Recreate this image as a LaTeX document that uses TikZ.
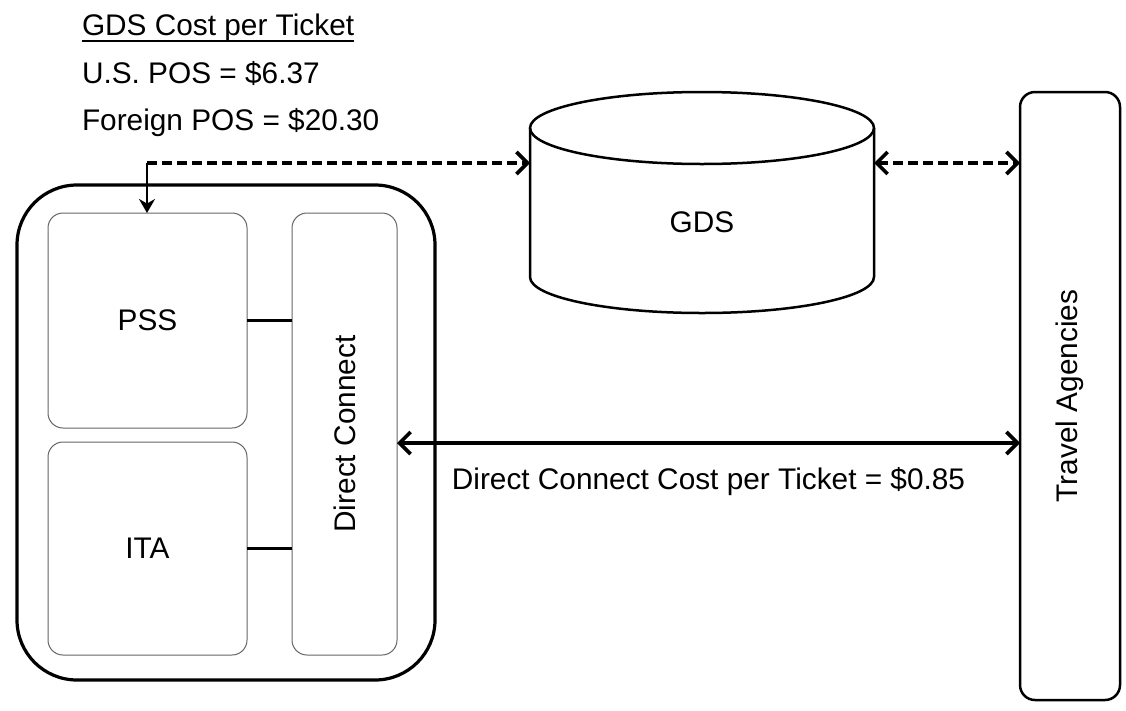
\documentclass[tikz,border=0pt]{standalone}
\usepackage{fontspec}
\setmainfont{Liberation Sans}
\usetikzlibrary{arrows.meta}
\begin{document}
\begin{tikzpicture}[x=1pt,y=-1pt,
  every node/.style={font=\fontsize{29.8}{36}\selectfont, inner sep=0pt, outer sep=0pt},
  thinbox/.style={draw=black!60, line width=1pt, rounded corners=15pt},
  bigbox/.style={draw=black, line width=3.2pt, rounded corners=60pt},
  tabox/.style={draw=black, line width=2.5pt, rounded corners=15pt},
  dasharr/.style={line width=3.6pt, dash pattern=on 10pt off 5pt},
  link/.style={line width=3.6pt}
]
\useasboundingbox (0,0) rectangle (1126,710);
\fill[white] (0,0) rectangle (1126,710);

% header texts
\node[anchor=base west] (h1) at (82,35) {GDS Cost per Ticket};
\draw[line width=1.8pt] ([yshift=-6pt]h1.base west) -- ([yshift=-6pt]h1.base east);
\node[anchor=base west] (h2) at (82,83) {U.S. POS = \$6.37};
\node[anchor=base west] (h3) at (82,130) {Foreign POS = \$20.30};

% airline box
\node[bigbox, minimum width=418pt, minimum height=495pt] (airline) at (226,432.5) {};
\node[thinbox, minimum width=199pt, minimum height=215pt] (pss) at (147.5,320.5) {PSS};
\node[thinbox, minimum width=199pt, minimum height=213pt] (ita) at (147.5,548.5) {ITA};
\node[thinbox, minimum width=105pt, minimum height=442pt,
      label={[rotate=90]center:Direct Connect}] (dc) at (344.5,434) {};
\draw[link] (pss.east) -- (pss.east -| dc.west);
\draw[link] (ita.east) -- (ita.east -| dc.west);

% GDS cylinder
\node[minimum width=344pt, minimum height=221pt] (gds) at (702,202.5) {};
\draw[line width=2.5pt] (702,128) ellipse [x radius=172pt, y radius=36pt];
\draw[line width=2.5pt] (530,128) -- (530,277) arc[start angle=180, end angle=360, x radius=172pt, y radius=36pt] -- (874,128);
\node at (702,222) {GDS};

% Travel agencies
\node[tabox, minimum width=100pt, minimum height=608pt,
      label={[rotate=90]center:Travel Agencies}] (ta) at (1070,396) {};

% connectors
\coordinate (src) at (147,163);
\coordinate (dcy) at (0,443);
\draw[dasharr, -{Straight Barb[length=11pt,width=22pt]}] (src) -- (gds.west |- src);
\draw[line width=2.8pt, -{Stealth[length=14pt,width=16pt]}] (src) -- (src |- pss.north);
\draw[dasharr, {Straight Barb[length=11pt,width=22pt]}-{Straight Barb[length=11pt,width=22pt]}] (gds.east |- src) -- (ta.west |- src);
\draw[link, {Straight Barb[length=11pt,width=22pt]}-{Straight Barb[length=11pt,width=22pt]}] (dc.east |- dcy) -- (ta.west |- dcy)
  node[pos=0.5, below=24pt] {Direct Connect Cost per Ticket = \$0.85};
\end{tikzpicture}
\end{document}
